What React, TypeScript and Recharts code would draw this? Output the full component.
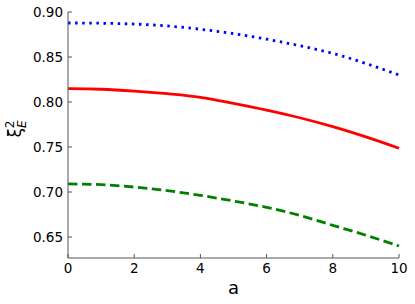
import { Line, LineChart, XAxis, YAxis } from 'recharts';

const aValues = [0, 1, 2, 3, 4, 5, 6, 7, 8, 9, 10];
const blueSeries = [0.8878, 0.8875, 0.8866, 0.8845, 0.8808, 0.876, 0.8698, 0.8625, 0.854, 0.8428, 0.83];
const redSeries = [0.8148, 0.8142, 0.8122, 0.8092, 0.8052, 0.7985, 0.791, 0.7825, 0.7726, 0.7612, 0.7486];
const greenSeries = [0.709, 0.7082, 0.7055, 0.7015, 0.6963, 0.69, 0.683, 0.674, 0.663, 0.652, 0.64];
const xTicks = [0, 2, 4, 6, 8, 10];
const yTicks = [0.65, 0.7, 0.75, 0.8, 0.85, 0.9];

const FONT = 'DejaVu Sans, sans-serif';
const SPINE = '#555';

const chartData = aValues.map((a, i) => ({
  a,
  blue: blueSeries[i],
  red: redSeries[i],
  green: greenSeries[i],
}));

function XTick({ x, y, payload }: any) {
  return (
    <g>
      <line x1={x} x2={x} y1={y - 4} y2={y - 8} stroke={SPINE} strokeWidth={1} />
      <text x={x} y={y} dy="0.85em" textAnchor="middle" fontSize={13.5} fontFamily={FONT} fill="#000">
        {payload.value}
      </text>
    </g>
  );
}

function YTick({ x, y, payload }: any) {
  return (
    <g>
      <line x1={x + 5} x2={x + 9} y1={y} y2={y} stroke={SPINE} strokeWidth={1} />
      <text x={x} y={y} dy="0.36em" textAnchor="end" fontSize={13.5} fontFamily={FONT} fill="#000">
        {Number(payload.value).toFixed(2)}
      </text>
    </g>
  );
}

function YLabel({ viewBox }: any) {
  const cx = 21;
  const cy = viewBox.y + viewBox.height / 2 - 6;
  return (
    <text
      x={cx}
      y={cy}
      transform={`rotate(-90, ${cx}, ${cy})`}
      textAnchor="middle"
      fontFamily={FONT}
      fontSize={17}
      fill="#000"
    >
      ξ
      <tspan fontSize={12} dy={-7}>2</tspan>
      <tspan fontSize={12} fontStyle="italic" dx={-7.5} dy={12}>E</tspan>
    </text>
  );
}

function XLabel({ viewBox }: any) {
  return (
    <text
      x={viewBox.x + viewBox.width / 2}
      y={294}
      textAnchor="middle"
      fontFamily={FONT}
      fontSize={18}
      fill="#000"
    >
      a
    </text>
  );
}

export default function App() {
  return (
    <div style={{ position: 'absolute', left: 0, top: 0, background: '#fff' }}>
      <LineChart width={415} height={304} data={chartData} margin={{ top: 12, right: 16, left: 0, bottom: 0 }}>
        <XAxis
          dataKey="a"
          type="number"
          domain={[0, 10]}
          ticks={xTicks}
          height={46}
          tickSize={0}
          tickMargin={4}
          tickLine={false}
          tick={<XTick />}
          axisLine={{ stroke: SPINE }}
          label={<XLabel />}
        />
        <XAxis xAxisId="top" orientation="top" height={0} tick={false} tickLine={false} axisLine={{ stroke: SPINE }} />
        <YAxis
          type="number"
          domain={[0.6267, 0.9]}
          ticks={yTicks}
          width={68}
          tickSize={0}
          tickMargin={5}
          tickLine={false}
          tick={<YTick />}
          axisLine={{ stroke: SPINE }}
          allowDataOverflow
          label={<YLabel />}
        />
        <YAxis yAxisId="right" orientation="right" width={0} tick={false} tickLine={false} axisLine={{ stroke: SPINE }} />
        <Line type="monotone" dataKey="blue" stroke="#0000ff" strokeWidth={2.8} strokeDasharray="2.5 4.6" dot={false} isAnimationActive={false} />
        <Line type="monotone" dataKey="red" stroke="#ff0000" strokeWidth={2.8} dot={false} isAnimationActive={false} />
        <Line type="monotone" dataKey="green" stroke="#008000" strokeWidth={2.8} strokeDasharray="9.5 4.5" dot={false} isAnimationActive={false} />
      </LineChart>
    </div>
  );
}
